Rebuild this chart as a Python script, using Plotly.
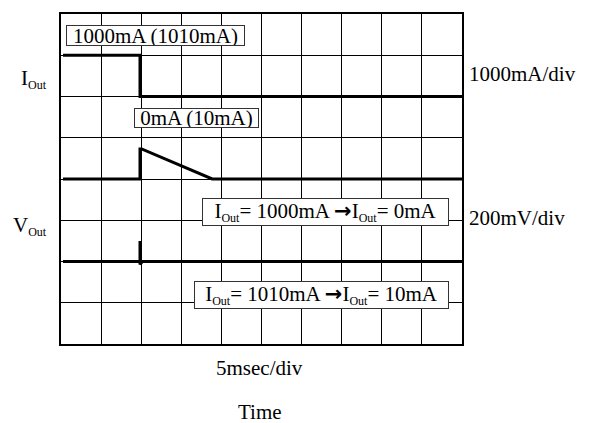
import plotly.graph_objects as go

# time in divisions (5 ms/div), level in divisions from bottom of screen
iout_t = [0.05, 1.97, 1.97, 10]
iout_v = [7, 7, 6, 6]

v1_t = [0.05, 1.97, 1.97, 2.01, 3.77, 10]
v1_v = [4, 4, 4.73, 4.73, 4.0, 4.0]

v2_t = [0.05, 1.97, 1.97, 1.97, 2.03, 10]
v2_v = [2, 2, 2.5, 1.93, 2.0, 2.0]

ARROW = "<span style=\"font-family:'DejaVu Sans'\"><b>\u2192</b></span>"
SUB = "<sub><span style=\"font-size:12px\">Out</span></sub>"
box_labels = [
    "1000mA (1010mA)",
    "0mA (10mA)",
    "I" + SUB + "= 1000mA " + ARROW + "I" + SUB + "= 0mA",
    "I" + SUB + "= 1010mA " + ARROW + "I" + SUB + "= 10mA",
]
side_labels = ["I" + SUB, "V" + SUB]
scale_labels = ["1000mA/div", "200mV/div"]
x_label = "5msec/div"
x_title = "Time"

FONT = "Liberation Serif"

fig = go.Figure()
for t, v in [(iout_t, iout_v), (v1_t, v1_v), (v2_t, v2_v)]:
    fig.add_trace(go.Scatter(x=t, y=v, mode="lines",
                             line=dict(color="black", width=3),
                             showlegend=False, hoverinfo="skip"))

# boxed annotations (x, y center, width, height)
box_geo = [(2.354, 7.48, 177, 19), (3.38, 5.47, 123, 18),
           (6.59, 3.20, 245, 26), (6.50, 1.18, 253, 26)]
for txt, (x, y, w, h) in zip(box_labels, box_geo):
    fig.add_annotation(x=x, y=y, xref="x", yref="y", text=txt, showarrow=False,
                       xanchor="center", yanchor="middle", width=w, height=h,
                       bgcolor="white", bordercolor="#333333", borderwidth=1,
                       borderpad=0, font=dict(family=FONT, size=21, color="black"))

for txt, (x, y) in zip(side_labels, [(-0.068, 0.8025), (-0.077, 0.3575)]):
    fig.add_annotation(x=x, y=y, xref="paper", yref="paper", text=txt, showarrow=False,
                       xanchor="center", yanchor="middle",
                       font=dict(family=FONT, size=21, color="black"))

for txt, (x, y) in zip(scale_labels, [(1.012, 0.8175), (1.012, 0.381)]):
    fig.add_annotation(x=x, y=y, xref="paper", yref="paper", text=txt, showarrow=False,
                       xanchor="left", yanchor="middle",
                       font=dict(family=FONT, size=21, color="black"))

fig.add_annotation(x=0.495, y=-0.0725, xref="paper", yref="paper", text=x_label,
                   showarrow=False, xanchor="center", yanchor="middle",
                   font=dict(family=FONT, size=21, color="black"))
fig.add_annotation(x=0.497, y=-0.206, xref="paper", yref="paper", text=x_title,
                   showarrow=False, xanchor="center", yanchor="middle",
                   font=dict(family=FONT, size=21, color="black"))

axis_common = dict(showgrid=True, gridcolor="black", gridwidth=1, dtick=1,
                   zeroline=False, showticklabels=False, ticks="",
                   showline=True, linecolor="black", linewidth=2, mirror=True)
fig.update_xaxes(range=[0, 10], **axis_common)
fig.update_yaxes(range=[0, 8], **axis_common)

# page body adds an 8px offset, so the figure is 8px smaller and margins shifted
fig.update_layout(width=581, height=415,
                  margin=dict(l=53, r=127, t=4, b=79),
                  plot_bgcolor="white", paper_bgcolor="white",
                  font=dict(family=FONT, size=21, color="black"))

fig.write_html("out.html")
